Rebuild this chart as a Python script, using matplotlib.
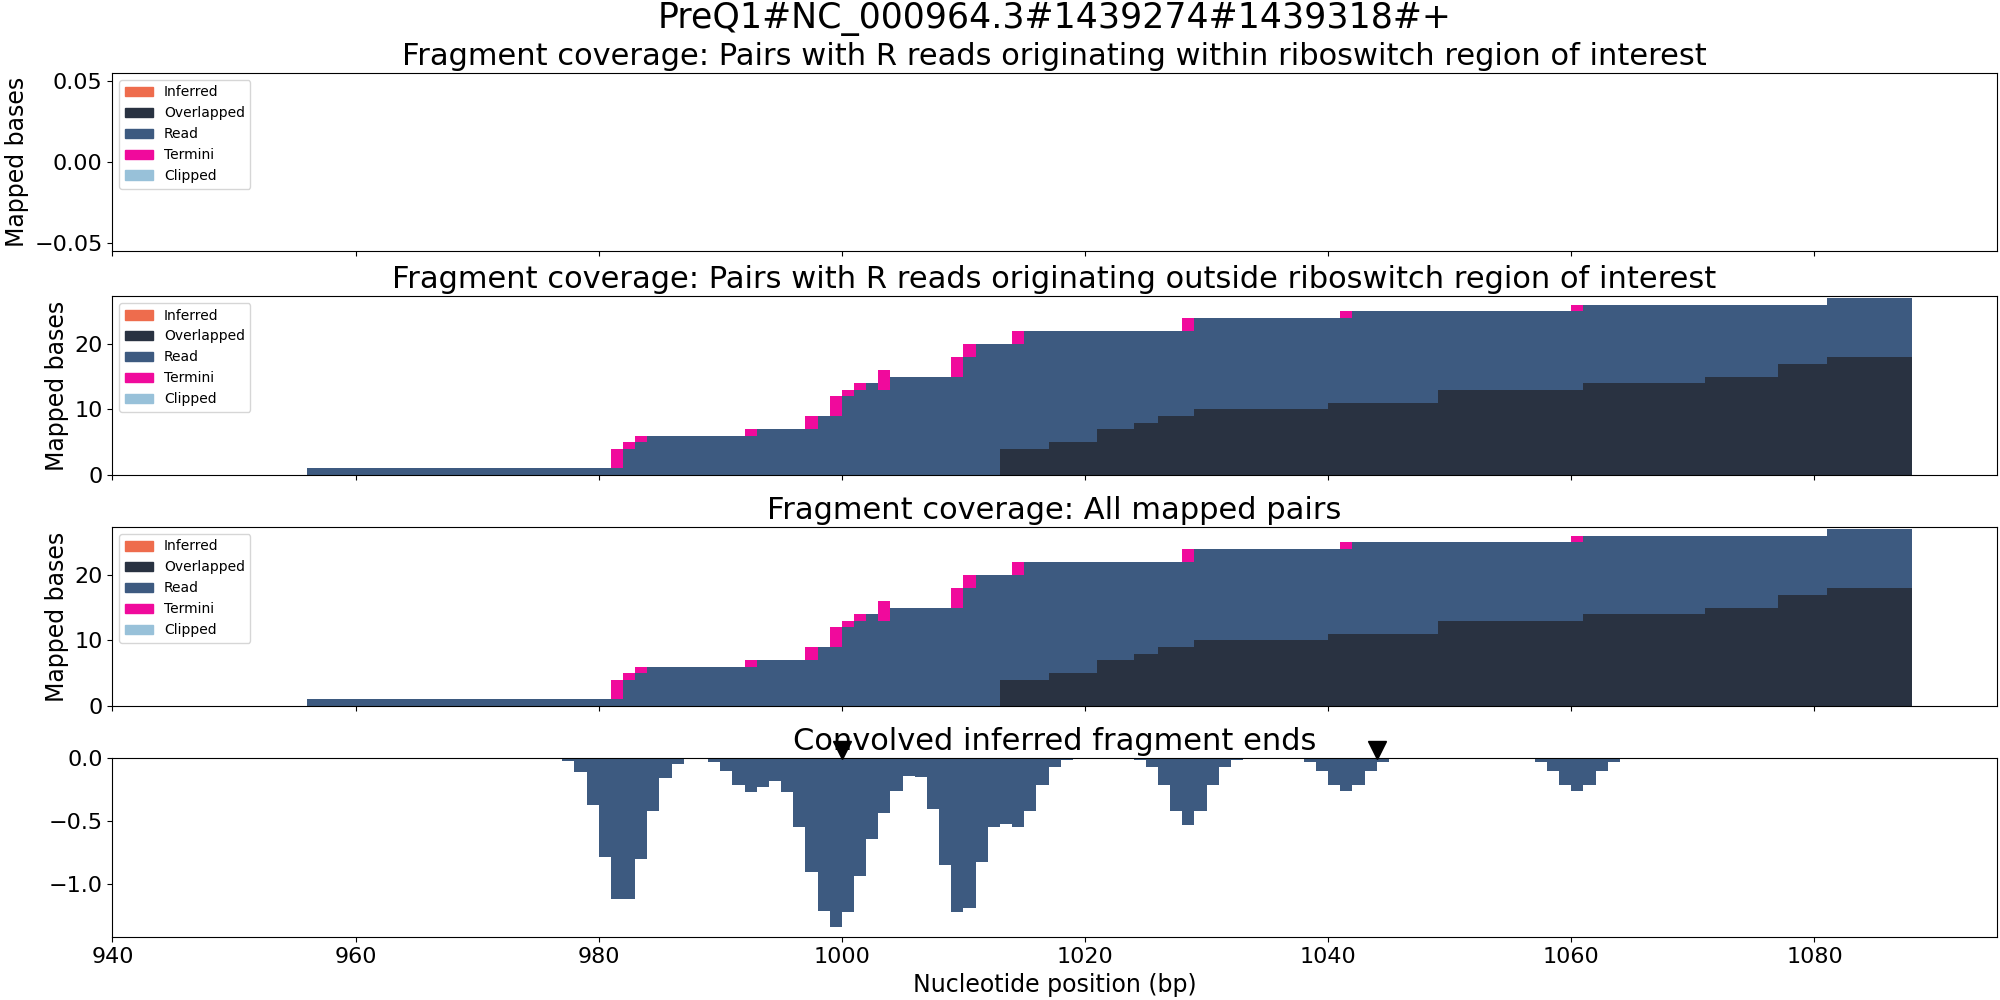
import numpy as np
import matplotlib
matplotlib.use("Agg")
import matplotlib.pyplot as plt
import matplotlib.transforms as mtransforms
from matplotlib.patches import Patch

# ---- data ----
feature_name = "PreQ1#NC_000964.3#1439274#1439318#+"
region_start, region_end = 1000, 1044

# per-base coverage, R reads originating outside the riboswitch (positions 956..1087)
cov_start = 956
overlapped = [
    0, 0, 0, 0, 0, 0, 0, 0, 0, 0,
    0, 0, 0, 0, 0, 0, 0, 0, 0, 0,
    0, 0, 0, 0, 0, 0, 0, 0, 0, 0,
    0, 0, 0, 0, 0, 0, 0, 0, 0, 0,
    0, 0, 0, 0, 0, 0, 0, 0, 0, 0,
    0, 0, 0, 0, 0, 0, 0, 4, 4, 4,
    4, 5, 5, 5, 5, 7, 7, 7, 8, 8,
    9, 9, 9, 10, 10, 10, 10, 10, 10, 10,
    10, 10, 10, 10, 11, 11, 11, 11, 11, 11,
    11, 11, 11, 13, 13, 13, 13, 13, 13, 13,
    13, 13, 13, 13, 13, 14, 14, 14, 14, 14,
    14, 14, 14, 14, 14, 15, 15, 15, 15, 15,
    15, 17, 17, 17, 17, 18, 18, 18, 18, 18,
    18, 18,
]
read = [
    1, 1, 1, 1, 1, 1, 1, 1, 1, 1,
    1, 1, 1, 1, 1, 1, 1, 1, 1, 1,
    1, 1, 1, 1, 1, 1, 4, 5, 6, 6,
    6, 6, 6, 6, 6, 6, 6, 7, 7, 7,
    7, 7, 9, 9, 12, 13, 14, 13, 15, 15,
    15, 15, 15, 15, 18, 20, 20, 16, 16, 18,
    18, 17, 17, 17, 17, 15, 15, 15, 14, 14,
    13, 13, 13, 14, 14, 14, 14, 14, 14, 14,
    14, 14, 14, 14, 13, 13, 14, 14, 14, 14,
    14, 14, 14, 12, 12, 12, 12, 12, 12, 12,
    12, 12, 12, 12, 12, 12, 12, 12, 12, 12,
    12, 12, 12, 12, 12, 11, 11, 11, 11, 11,
    11, 9, 9, 9, 9, 9, 9, 9, 9, 9,
    9, 9,
]
termini = [
    0, 0, 0, 0, 0, 0, 0, 0, 0, 0,
    0, 0, 0, 0, 0, 0, 0, 0, 0, 0,
    0, 0, 0, 0, 0, 3, 1, 1, 0, 0,
    0, 0, 0, 0, 0, 0, 1, 0, 0, 0,
    0, 2, 0, 3, 1, 1, 0, 3, 0, 0,
    0, 0, 0, 3, 2, 0, 0, 0, 2, 0,
    0, 0, 0, 0, 0, 0, 0, 0, 0, 0,
    0, 0, 2, 0, 0, 0, 0, 0, 0, 0,
    0, 0, 0, 0, 0, 1, 0, 0, 0, 0,
    0, 0, 0, 0, 0, 0, 0, 0, 0, 0,
    0, 0, 0, 0, 1, 0, 0, 0, 0, 0,
    0, 0, 0, 0, 0, 0, 0, 0, 0, 0,
    0, 0, 0, 0, 0, 0, 0, 0, 0, 0,
    0, 0,
]

# convolved inferred fragment ends (positions 977..1063)
conv_start = 977
convolved = [
    -0.02, -0.11, -0.37, -0.78, -1.12, -1.12, -0.80, -0.42, -0.16, -0.045,
    0, 0, -0.026, -0.10, -0.21, -0.27, -0.23, -0.18, -0.27, -0.545,
    -0.90, -1.21, -1.34, -1.22, -0.93, -0.64, -0.43, -0.26, -0.14, -0.15,
    -0.40, -0.85, -1.22, -1.19, -0.82, -0.545, -0.52, -0.545, -0.42, -0.21,
    -0.066, -0.01, 0, 0, 0, 0, 0, -0.01, -0.066, -0.21,
    -0.42, -0.53, -0.42, -0.21, -0.066, -0.01, 0, 0, 0, 0,
    0, -0.026, -0.098, -0.21, -0.26, -0.21, -0.098, -0.026, 0, 0,
    0, 0, 0, 0, 0, 0, 0, 0, 0, 0,
    -0.026, -0.098, -0.21, -0.26, -0.21, -0.098, -0.026,
]

colors = {
    "Inferred": "#ee6c4d",
    "Overlapped": "#293241",
    "Read": "#3d5a80",
    "Termini": "#f00a9c",
    "Clipped": "#98c1d9",
}

TITLE_SIZE = 22
LABEL_SIZE = 17
TICK_SIZE = 16

plt.rcParams["font.family"] = ["DejaVu Sans"]

fig = plt.figure(figsize=(20, 10), dpi=100)
left, width = 0.0562, 0.9422
ax1 = fig.add_axes((left, 0.7494, width, 0.1777))
ax2 = fig.add_axes((left, 0.525, width, 0.179), sharex=ax1)
ax3 = fig.add_axes((left, 0.294, width, 0.179), sharex=ax1)
ax4 = fig.add_axes((left, 0.0627, width, 0.179), sharex=ax1)

legend_handles = [Patch(color=c, label=k) for k, c in colors.items()]


def draw_coverage(ax, pos, ovl, rd, term):
    ovl = np.asarray(ovl)
    rd = np.asarray(rd)
    term = np.asarray(term)
    ax.bar(pos, ovl, width=1, align="edge", color=colors["Overlapped"], linewidth=0)
    ax.bar(pos, rd, bottom=ovl, width=1, align="edge", color=colors["Read"], linewidth=0)
    ax.bar(pos, term, bottom=ovl + rd, width=1, align="edge", color=colors["Termini"], linewidth=0)


pos = np.arange(cov_start, cov_start + len(read))

# feature name above everything, centred on the axes
fig.text(left + width / 2, 0.981, feature_name, fontsize=25, ha="center", va="center")

# panel 1: nothing originates inside the region
ax1.set_ylim(-0.055, 0.055)
ax1.set_yticks([-0.05, 0.0, 0.05])
ax1.set_title("Fragment coverage: Pairs with R reads originating within "
              "riboswitch region of interest", fontsize=TITLE_SIZE)

draw_coverage(ax2, pos, overlapped, read, termini)
ax2.set_title("Fragment coverage: Pairs with R reads originating outside riboswitch "
              "region of interest", fontsize=TITLE_SIZE)

draw_coverage(ax3, pos, overlapped, read, termini)
ax3.set_title("Fragment coverage: All mapped pairs", fontsize=TITLE_SIZE)

for ax in (ax2, ax3):
    ax.set_ylim(0, 27.3)
    ax.set_yticks([0, 10, 20])

for ax in (ax1, ax2, ax3):
    ax.set_ylabel("Mapped bases", fontsize=LABEL_SIZE)
    ax.legend(handles=legend_handles, loc="upper left", fontsize=10)
    ax.tick_params(labelbottom=False)

cpos = np.arange(conv_start, conv_start + len(convolved))
ax4.bar(cpos, convolved, width=1, align="edge", color=colors["Read"], linewidth=0)
ax4.set_ylim(-1.42, 0)
ax4.set_yticks([0.0, -0.5, -1.0])
ax4.set_title("Convolved inferred fragment ends", fontsize=TITLE_SIZE)
ax4.set_xlabel("Nucleotide position (bp)", fontsize=LABEL_SIZE)

# riboswitch boundaries marked just above the top spine
trans = mtransforms.blended_transform_factory(ax4.transData, ax4.transAxes)
trans = trans + mtransforms.ScaledTranslation(0, 6.2 / 72, fig.dpi_scale_trans)
ax4.plot([region_start, region_end], [1, 1], linestyle="none", marker="v",
         markersize=12.5, color="black", transform=trans, clip_on=False, zorder=5)

ax4.set_xlim(940, 1095)
for ax in (ax1, ax2, ax3, ax4):
    ax.tick_params(labelsize=TICK_SIZE)

fig.savefig("out.png", dpi=100)
